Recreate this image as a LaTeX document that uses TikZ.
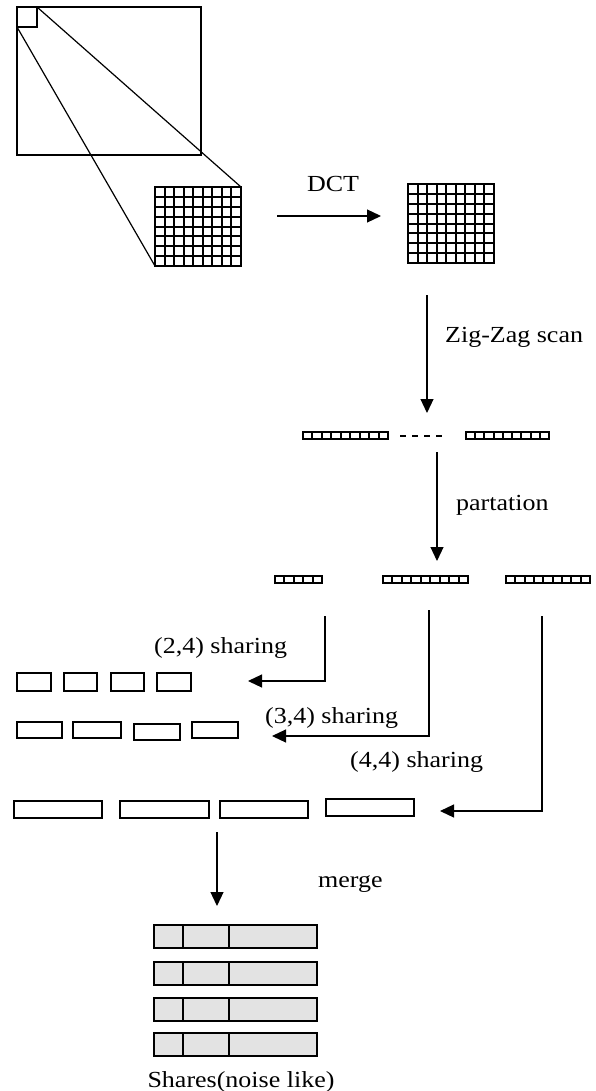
\documentclass[tikz,border=0pt]{standalone}
\usepackage{fontspec}
\setmainfont{Liberation Serif}
\usetikzlibrary{arrows.meta}
\newcommand{\wtxt}[1]{\scalebox{1.13}[1]{#1}}
\begin{document}
\begin{tikzpicture}[x=1pt,y=1pt,
  box/.style={draw, line width=1.3pt, inner sep=0pt, outer sep=0pt, anchor=north west},
  conn/.style={line width=1.2pt},
  arr/.style={line width=1.2pt, -{Triangle[length=14pt,width=13pt]}},
  lbl/.style={font=\fontsize{23}{26}\selectfont, inner sep=0pt, anchor=base west},
  gridl/.style={line width=2pt},
  stripl/.style={line width=1.6pt},
  share/.style={box, fill=black!11, minimum width=163pt, minimum height=23pt}
]
\useasboundingbox (0,0) rectangle (595,-1091);
% image and block
\node[box, minimum width=184pt, minimum height=148pt] (img) at (17,-7) {};
\node[box, minimum width=20pt, minimum height=20pt] (blk) at (17,-7) {};
% grid 1
\node[box, line width=2pt, minimum width=86pt, minimum height=79pt] (g1) at (155,-187) {};
\foreach \i in {1,...,8} \draw[gridl] ({155+round(\i*86/9)},-187) -- ({155+round(\i*86/9)},-266);
\foreach \j in {1,...,7} \draw[gridl] (155,{-187-round(\j*79/8)}) -- (241,{-187-round(\j*79/8)});
\draw[conn] (blk.north east) -- (g1.north east);
\draw[conn] (blk.south west) -- (g1.south west);
% grid 2
\node[box, line width=2pt, minimum width=86pt, minimum height=79pt] (g2) at (408,-184) {};
\foreach \i in {1,...,8} \draw[gridl] ({408+round(\i*86/9)},-184) -- ({408+round(\i*86/9)},-263);
\foreach \j in {1,...,7} \draw[gridl] (408,{-184-round(\j*79/8)}) -- (494,{-184-round(\j*79/8)});
% DCT arrow
\coordinate (dA) at (277,-216);
\coordinate (dB) at (381,-216);
\draw[arr] (dA) -- (dB);
\node[lbl, anchor=base] (tdct) at (333,-192) {\wtxt{DCT}};
% zig-zag
\coordinate (zA) at (427,-295);
\coordinate (zB) at (427,-413);
\draw[arr] (zA) -- (zB);
\node[lbl] (tzz) at (445,-342) {\wtxt{Zig-Zag scan}};
\node[box, line width=1.6pt, minimum width=85pt, minimum height=7pt] (z1) at (303,-432) {};
\foreach \i in {1,...,8} \draw[stripl] ({303+round(\i*85/9)},-432) -- ++(0,-7);
\node[box, line width=1.6pt, minimum width=83pt, minimum height=7pt] (z2) at (466,-432) {};
\foreach \i in {1,...,8} \draw[stripl] ({466+round(\i*83/9)},-432) -- ++(0,-7);
\draw[line width=1.3pt, dash pattern=on 6pt off 6pt] (400,-436) -- (445,-436);
% partition
\coordinate (pA) at (437,-452);
\coordinate (pB) at (437,-561);
\draw[arr] (pA) -- (pB);
\node[lbl] (tpart) at (456,-510) {\wtxt{partation}};
\node[box, line width=1.6pt, minimum width=47pt, minimum height=7pt] (p1) at (275,-576) {};
\foreach \i in {1,...,4} \draw[stripl] ({275+round(\i*47/5)},-576) -- ++(0,-7);
\node[box, line width=1.6pt, minimum width=85pt, minimum height=7pt] (p2) at (383,-576) {};
\foreach \i in {1,...,8} \draw[stripl] ({383+round(\i*85/9)},-576) -- ++(0,-7);
\node[box, line width=1.6pt, minimum width=84pt, minimum height=7pt] (p3) at (506,-576) {};
\foreach \i in {1,...,8} \draw[stripl] ({506+round(\i*84/9)},-576) -- ++(0,-7);
% sharing connectors
\coordinate (s1) at (325,-616);
\coordinate (e1) at (248,-681);
\coordinate (s2) at (429,-610);
\coordinate (e2) at (272,-736);
\coordinate (s3) at (542,-616);
\coordinate (e3) at (440,-811);
\draw[arr] (s1) |- (e1);
\draw[arr] (s2) |- (e2);
\draw[arr] (s3) |- (e3);
\node[lbl] (t24) at (154,-653) {\wtxt{(2,4) sharing}};
\node[lbl] (t34) at (265,-723) {\wtxt{(3,4) sharing}};
\node[lbl] (t44) at (350,-767) {\wtxt{(4,4) sharing}};
% (2,4) shares
\node[box, minimum width=34pt, minimum height=18pt] (a1) at (17,-673) {};
\node[box, minimum width=33pt, minimum height=18pt] (a2) at (64,-673) {};
\node[box, minimum width=33pt, minimum height=18pt] (a3) at (111,-673) {};
\node[box, minimum width=34pt, minimum height=18pt] (a4) at (157,-673) {};
% (3,4) shares
\node[box, minimum width=45pt, minimum height=16pt] (b1) at (17,-722) {};
\node[box, minimum width=48pt, minimum height=16pt] (b2) at (73,-722) {};
\node[box, minimum width=46pt, minimum height=16pt] (b3) at (134,-724) {};
\node[box, minimum width=46pt, minimum height=16pt] (b4) at (192,-722) {};
% (4,4) shares
\node[box, minimum width=88pt, minimum height=17pt] (c1) at (14,-801) {};
\node[box, minimum width=89pt, minimum height=17pt] (c2) at (120,-801) {};
\node[box, minimum width=88pt, minimum height=17pt] (c3) at (220,-801) {};
\node[box, minimum width=88pt, minimum height=17pt] (c4) at (326,-799) {};
% merge
\coordinate (mA) at (217,-832);
\coordinate (mB) at (217,-906);
\draw[arr] (mA) -- (mB);
\node[lbl] (tmerge) at (318,-887) {\wtxt{merge}};
% merged shares
\foreach \n/\y in {1/925,2/962,3/998,4/1033} {
  \node[share] (m\n) at (154,-\y) {};
  \draw[line width=1.3pt] (183,-\y) -- ++(0,-23);
  \draw[line width=1.3pt] (229,-\y) -- ++(0,-23);
}
\node[lbl, anchor=base] (tshares) at (241,-1087) {\wtxt{Shares(noise like)}};
\end{tikzpicture}
\end{document}
